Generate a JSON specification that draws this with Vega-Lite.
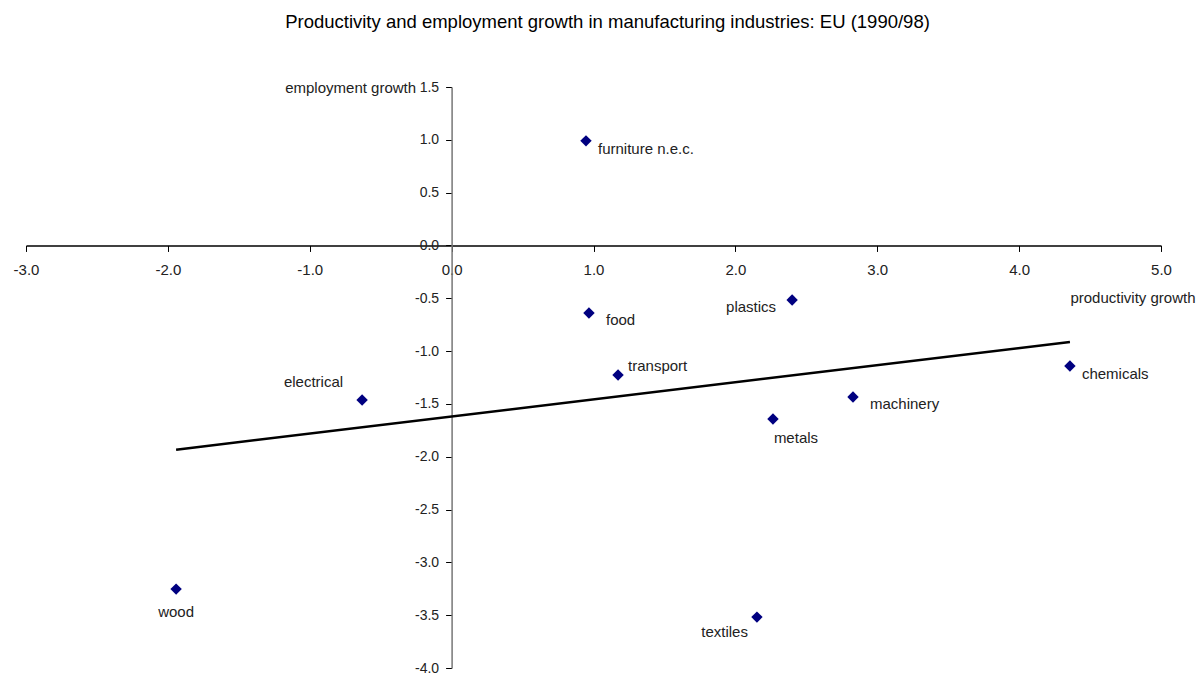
{
  "$schema": "https://vega.github.io/schema/vega-lite/v6.json",
  "width": 1135,
  "height": 581,
  "autosize": {"type": "none"},
  "padding": {"left": 26, "top": 87, "right": 36, "bottom": 6},
  "background": "white",
  "config": {
    "view": {"stroke": null},
    "font": "Liberation Sans",
    "text": {"font": "Liberation Sans", "fontSize": 15, "color": "#222"}
  },
  "title": {
    "text": "Productivity and employment growth in manufacturing industries: EU (1990/98)",
    "fontSize": 18.5,
    "fontWeight": "normal",
    "color": "#000",
    "anchor": "middle",
    "dx": 14,
    "offset": 49
  },
  "datasets": {
    "points": [
      {"industry": "furniture n.e.c.", "productivity": 0.947, "employment": 0.99},
      {"industry": "food", "productivity": 0.968, "employment": -0.639},
      {"industry": "plastics", "productivity": 2.40, "employment": -0.516},
      {"industry": "transport", "productivity": 1.173, "employment": -1.226},
      {"industry": "electrical", "productivity": -0.631, "employment": -1.463},
      {"industry": "machinery", "productivity": 2.829, "employment": -1.435},
      {"industry": "chemicals", "productivity": 4.358, "employment": -1.141},
      {"industry": "metals", "productivity": 2.265, "employment": -1.643},
      {"industry": "wood", "productivity": -1.942, "employment": -3.253},
      {"industry": "textiles", "productivity": 2.152, "employment": -3.518}
    ],
    "trend": [
      {"productivity": -1.942, "employment": -1.933},
      {"productivity": 4.358, "employment": -0.914}
    ]
  },
  "layer": [
    {
      "data": {"name": "trend"},
      "mark": {"type": "line", "color": "#000", "strokeWidth": 2.5},
      "encoding": {
        "x": {
          "field": "productivity", "type": "quantitative",
          "scale": {"domain": [-3, 5], "nice": false, "zero": false},
          "axis": {
            "orient": "bottom",
            "offset": -422.55,
            "values": [-3, -2, -1, 0, 1, 2, 3, 4, 5],
            "format": ".1f",
            "labelExpr": "replace(datum.label, '\u2212', '-')",
            "grid": false,
            "domainColor": "#000",
            "domainWidth": 1.5,
            "tickColor": "#000",
            "tickSize": 6,
            "labelPadding": 11,
            "labelFontSize": 15,
            "labelFont": "Liberation Sans",
            "labelColor": "#222",
            "labelFlush": false,
            "title": "productivity growth",
            "titleFont": "Liberation Sans",
            "titleFontSize": 15,
            "titleFontWeight": "normal",
            "titleColor": "#222",
            "titleAlign": "right",
            "titleAnchor": "start",
            "titleX": 1169,
            "titleY": 52,
            "titleBaseline": "middle"
          }
        },
        "y": {
          "field": "employment", "type": "quantitative",
          "scale": {"domain": [-4, 1.5], "nice": false, "zero": false},
          "axis": {
            "orient": "left",
            "offset": -425.6,
            "values": [-4, -3.5, -3, -2.5, -2, -1.5, -1, -0.5, 0, 0.5, 1, 1.5],
            "format": ".1f",
            "labelExpr": "replace(datum.label, '\u2212', '-')",
            "grid": false,
            "domainColor": "#777",
            "domainWidth": 1.5,
            "tickColor": "#000",
            "tickSize": 6,
            "labelPadding": 7,
            "labelFontSize": 14,
            "labelFont": "Liberation Sans",
            "labelColor": "#222",
            "labelFlush": false,
            "title": "employment growth",
            "titleFont": "Liberation Sans",
            "titleFontSize": 15,
            "titleFontWeight": "normal",
            "titleColor": "#222",
            "titleAngle": 0,
            "titleAlign": "right",
            "titleAnchor": "start",
            "titleX": -36,
            "titleY": 0,
            "titleBaseline": "middle"
          }
        }
      }
    },
    {
      "data": {"name": "points"},
      "mark": {"type": "point", "shape": "diamond", "filled": true, "color": "#000080", "size": 130, "opacity": 1},
      "encoding": {
        "x": {"field": "productivity", "type": "quantitative"},
        "y": {"field": "employment", "type": "quantitative"}
      }
    },
    {
      "data": {"name": "points"},
      "transform": [{"filter": "datum.industry == 'furniture n.e.c.' || datum.industry == 'chemicals'"}],
      "mark": {"type": "text", "align": "left", "baseline": "middle", "dx": 12, "dy": 8},
      "encoding": {
        "x": {"field": "productivity", "type": "quantitative"},
        "y": {"field": "employment", "type": "quantitative"},
        "text": {"field": "industry"}
      }
    },
    {
      "data": {"name": "points"},
      "transform": [{"filter": "datum.industry == 'food' || datum.industry == 'machinery'"}],
      "mark": {"type": "text", "align": "left", "baseline": "middle", "dx": 17, "dy": 7},
      "encoding": {
        "x": {"field": "productivity", "type": "quantitative"},
        "y": {"field": "employment", "type": "quantitative"},
        "text": {"field": "industry"}
      }
    },
    {
      "data": {"name": "points"},
      "transform": [{"filter": "datum.industry == 'plastics'"}],
      "mark": {"type": "text", "align": "right", "baseline": "middle", "dx": -16, "dy": 7},
      "encoding": {
        "x": {"field": "productivity", "type": "quantitative"},
        "y": {"field": "employment", "type": "quantitative"},
        "text": {"field": "industry"}
      }
    },
    {
      "data": {"name": "points"},
      "transform": [{"filter": "datum.industry == 'textiles'"}],
      "mark": {"type": "text", "align": "right", "baseline": "middle", "dx": -9, "dy": 15},
      "encoding": {
        "x": {"field": "productivity", "type": "quantitative"},
        "y": {"field": "employment", "type": "quantitative"},
        "text": {"field": "industry"}
      }
    },
    {
      "data": {"name": "points"},
      "transform": [{"filter": "datum.industry == 'transport'"}],
      "mark": {"type": "text", "align": "left", "baseline": "middle", "dx": 10, "dy": -9},
      "encoding": {
        "x": {"field": "productivity", "type": "quantitative"},
        "y": {"field": "employment", "type": "quantitative"},
        "text": {"field": "industry"}
      }
    },
    {
      "data": {"name": "points"},
      "transform": [{"filter": "datum.industry == 'electrical'"}],
      "mark": {"type": "text", "align": "right", "baseline": "middle", "dx": -19, "dy": -18},
      "encoding": {
        "x": {"field": "productivity", "type": "quantitative"},
        "y": {"field": "employment", "type": "quantitative"},
        "text": {"field": "industry"}
      }
    },
    {
      "data": {"name": "points"},
      "transform": [{"filter": "datum.industry == 'metals'"}],
      "mark": {"type": "text", "align": "center", "baseline": "middle", "dx": 23, "dy": 19},
      "encoding": {
        "x": {"field": "productivity", "type": "quantitative"},
        "y": {"field": "employment", "type": "quantitative"},
        "text": {"field": "industry"}
      }
    },
    {
      "data": {"name": "points"},
      "transform": [{"filter": "datum.industry == 'wood'"}],
      "mark": {"type": "text", "align": "center", "baseline": "middle", "dx": 0, "dy": 23},
      "encoding": {
        "x": {"field": "productivity", "type": "quantitative"},
        "y": {"field": "employment", "type": "quantitative"},
        "text": {"field": "industry"}
      }
    }
  ]
}
